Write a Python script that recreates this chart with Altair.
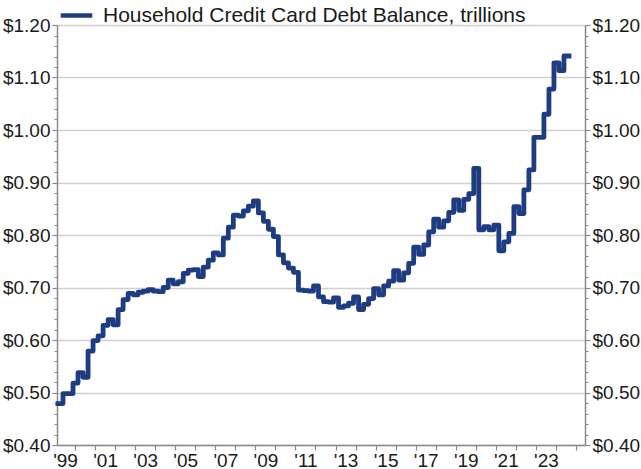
import altair as alt
import pandas as pd

# Quarterly household credit card debt balance (trillions of $), 1999Q1 .. 2024Q2
first_year = 1999
balance = [
    0.479, 0.498, 0.498, 0.518,   # 1999
    0.538, 0.529, 0.579, 0.599,   # 2000
    0.608, 0.628, 0.639, 0.629,   # 2001
    0.658, 0.677, 0.689, 0.686,   # 2002
    0.691, 0.693, 0.696, 0.693,   # 2003
    0.692, 0.700, 0.714, 0.707,   # 2004
    0.711, 0.727, 0.733, 0.734,   # 2005
    0.721, 0.739, 0.752, 0.766,   # 2006
    0.762, 0.794, 0.815, 0.838,   # 2007
    0.836, 0.846, 0.855, 0.865,   # 2008
    0.842, 0.826, 0.811, 0.797,   # 2009
    0.762, 0.747, 0.737, 0.729,   # 2010
    0.695, 0.694, 0.693, 0.703,   # 2011
    0.682, 0.673, 0.672, 0.680,   # 2012
    0.662, 0.665, 0.670, 0.682,   # 2013
    0.658, 0.668, 0.679, 0.698,   # 2014
    0.686, 0.703, 0.712, 0.732,   # 2015
    0.714, 0.728, 0.746, 0.777,   # 2016
    0.763, 0.781, 0.806, 0.830,   # 2017
    0.815, 0.827, 0.843, 0.867,   # 2018
    0.847, 0.868, 0.879, 0.927,   # 2019
    0.810, 0.816, 0.810, 0.819,   # 2020
    0.770, 0.787, 0.803, 0.854,   # 2021
    0.841, 0.886, 0.924, 0.986,   # 2022
    0.986, 1.030, 1.078, 1.128,   # 2023
    1.113, 1.141,                 # 2024
]
series_name = "Household Credit Card Debt Balance, trillions"

y_major = [0.40, 0.50, 0.60, 0.70, 0.80, 0.90, 1.00, 1.10, 1.20]
y_minor = [round(0.40 + 0.02 * k, 2) for k in range(41) if k % 5 != 0]
x_tick_years = list(range(2000, 2026))
x_label_years = list(range(1999, 2024, 2))

NAVY = "#1d3c82"
GREY = "#8a8a8a"
GRID = "#d0d0d0"
FONT = "Liberation Sans"
LBL = 19

# quarter positions on a decimal-year axis (step-after: each value holds for its quarter)
pos = [first_year + 0.15 + 0.25 * i for i in range(len(balance))]
rows = [{"t": p, "v": b, "series": series_name} for p, b in zip(pos, balance)]
rows.append({"t": pos[-1] + 0.25, "v": balance[-1], "series": series_name})
df = pd.DataFrame(rows)

xscale = alt.Scale(domain=[1999.1, 2025.45], nice=False, zero=False)
yscale = alt.Scale(domain=[0.40, 1.20], nice=False, zero=False)

base = alt.Chart(df)

main = base.mark_line(
    interpolate="step-after", strokeWidth=4.8, strokeCap="square",
    strokeJoin="round"
).encode(
    x=alt.X("t:Q", scale=xscale, axis=alt.Axis(
        orient="bottom", values=x_tick_years, labels=False, tickSize=5,
        tickColor=GREY, tickWidth=1.2, domainColor=GREY, domainWidth=1.5,
        grid=False, title=None)),
    y=alt.Y("v:Q", scale=yscale, axis=alt.Axis(
        orient="left", values=y_major, format="$.2f", labelFontSize=LBL,
        labelColor="#1a1a1a", tickSize=5, tickColor=GREY, tickWidth=1.2,
        domainColor=GREY, domainWidth=1.5, grid=True, gridColor=GRID,
        gridWidth=1.6, labelPadding=2, title=None)),
    color=alt.Color("series:N", scale=alt.Scale(range=[NAVY]), legend=alt.Legend(
        orient="none", legendX=1, legendY=-28, title=None, symbolType="stroke",
        symbolStrokeWidth=4.5, symbolSize=1000, labelFontSize=21,
        labelColor="#1a1a1a", labelLimit=0, labelOffset=8, padding=0)),
)

right = base.mark_line(interpolate="step-after", strokeOpacity=0).encode(
    x=alt.X("t:Q", scale=xscale, axis=alt.Axis(
        orient="bottom", values=[y + 0.5 for y in x_label_years],
        labelExpr="\"'\" + format(floor(datum.value) % 100, '02d')",
        ticks=False, domain=False, grid=False, labelFontSize=LBL,
        labelColor="#1a1a1a", labelPadding=6, title=None)),
    y=alt.Y("v:Q", scale=yscale, axis=alt.Axis(
        orient="right", values=y_major, format="$.2f", labelFontSize=LBL,
        labelColor="#1a1a1a", tickSize=5, tickColor=GREY, tickWidth=1.2,
        domainColor=GREY, domainWidth=1.5, grid=False, labelPadding=2,
        title=None)),
)

minor_left = base.mark_line(strokeOpacity=0).encode(
    x=alt.X("t:Q", scale=xscale, axis=None),
    y=alt.Y("v:Q", scale=yscale, axis=alt.Axis(
        orient="left", values=y_minor, labels=False, tickSize=3,
        tickColor=GREY, tickWidth=1, domain=False, grid=False, title=None)),
)

minor_right = base.mark_line(strokeOpacity=0).encode(
    x=alt.X("t:Q", scale=xscale, axis=None),
    y=alt.Y("v:Q", scale=yscale, axis=alt.Axis(
        orient="right", values=y_minor, labels=False, tickSize=3,
        tickColor=GREY, tickWidth=1, domain=False, grid=False, title=None)),
)

chart = alt.layer(main, right, minor_left, minor_right).resolve_axis(
    x="independent", y="independent"
).properties(
    width=528, height=420,
    autosize=alt.AutoSizeParams(type="none"),
    padding={"left": 57, "top": 25, "right": 56, "bottom": 24},
).configure(font=FONT).configure_view(stroke=None)

chart.save("out.html", embed_options={"renderer": "svg", "actions": False})
